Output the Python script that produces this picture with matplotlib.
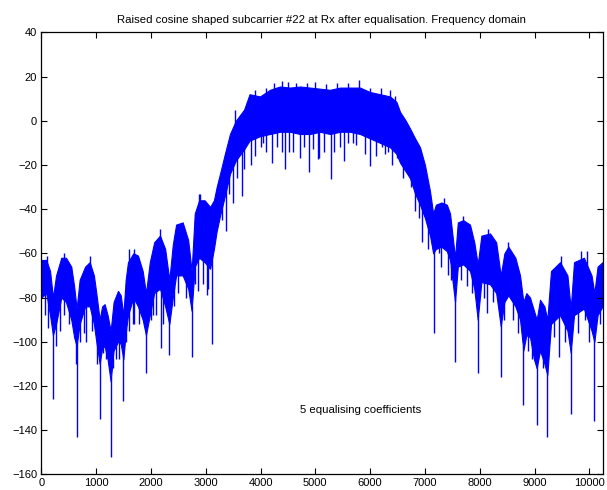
import numpy as np
import matplotlib
matplotlib.use('Agg')
import matplotlib.pyplot as plt

plt.rcParams['font.family'] = ['Liberation Sans', 'DejaVu Sans']

# band of the dense spectrum trace (bin index, dB)
bins = [0, 90, 160, 213, 270, 365, 450, 547, 600, 645, 700, 800, 883, 960, 1004,
        1065, 1110, 1156, 1210, 1266, 1320, 1400, 1450, 1497, 1540, 1582, 1680,
        1764, 1850, 1910, 1980, 2060, 2166, 2260, 2336, 2400, 2460, 2580, 2680,
        2743, 2800, 2880, 2980, 3080, 3150, 3200, 3261, 3350, 3443, 3550, 3700,
        3800, 3991, 4173, 4356, 4538, 4721, 4903, 5086, 5268, 5451, 5633, 5816,
        5998, 6181, 6363, 6480, 6546, 6650, 6728, 6820, 6910, 7000, 7093, 7150,
        7200, 7300, 7400, 7458, 7549, 7600, 7700, 7822, 7900, 7963, 8030, 8187,
        8300, 8383, 8450, 8522, 8650, 8735, 8796, 8850, 8917, 8990, 9039, 9100,
        9180, 9233, 9300, 9465, 9600, 9660, 9720, 9900, 10040, 10091, 10150, 10240]
upper_db = [-63, -63, -68, -80, -70, -62, -62, -66, -75, -85, -72, -66, -64, -70, -78,
            -90, -84, -83, -88, -95, -82, -77, -79, -88, -72, -64, -60,
            -61, -68, -78, -64, -55, -52, -58, -72, -56, -47, -46, -54,
            -68, -42, -36, -36, -39, -36, -30, -24, -15, -6, 0, 5,
            12, 11, 14, 15.5, 15, 15.5, 15, 14.5, 14, 15, 15, 15,
            13, 12, 11, 8.5, 4, 0, -3.5, -8, -12, -20, -32, -42,
            -38, -37, -38, -42, -62, -46, -45, -47, -55, -65, -52, -51,
            -55, -70, -60, -57, -62, -70, -82, -78, -80, -86, -90, -81,
            -84, -90, -68, -64, -70, -85, -64, -62, -70, -78, -66, -64]
lower_db = [-80, -78, -88, -97, -92, -80, -82, -90, -98, -102, -92, -84, -84, -92, -100,
            -110, -103, -102, -108, -118, -104, -100, -101, -108, -96, -88, -80,
            -84, -90, -97, -88, -78, -76, -84, -92, -80, -70, -70, -76,
            -86, -66, -62, -64, -67, -58, -50, -43, -34, -24, -18, -13,
            -9, -7, -6, -5, -5, -6, -6, -5, -6, -5, -5, -6,
            -8, -10, -12, -15, -19, -23, -26, -33, -38, -44, -52, -60,
            -58, -57, -59, -63, -82, -66, -65, -68, -76, -90, -73, -74,
            -78, -93, -82, -79, -84, -90, -104, -97, -98, -108, -112, -104,
            -110, -115, -92, -88, -95, -105, -88, -85, -95, -100, -88, -84]

# downward spikes below the band (bin index, dB)
dip_bins = [130, 213, 274, 347, 627, 645, 819, 1013, 1065, 1130, 1266, 1360, 1497,
            1679, 1910, 2032, 2178, 2336, 2591, 2743, 2865, 3029, 3120,
            3365, 3492, 3669, 3821, 4052, 4216, 4386, 4453, 4520, 4721, 4879,
            5049, 5074, 5280, 5530, 5682, 6004, 6217, 6320, 6497, 6679, 6813,
            6898, 6941, 7171, 7257, 7415, 7549, 7762, 7963, 8138, 8383, 8796,
            9039, 9233, 9452, 9660, 9921, 10091,
            60, 250, 420, 500, 700, 780, 930, 1180, 1300, 1420, 1540, 1600,
            1700, 1780, 2000, 2100, 2220, 2420, 2500, 2640, 2800, 2950, 3050,
            3300, 3420, 3580, 3700, 3900, 4000, 4100, 4300, 4600, 4800, 4950,
            5150, 5350, 5450, 5600, 5750, 5900, 6100, 6270, 6400, 6600, 6750,
            7050, 7300, 7480, 7650, 7850, 8080, 8250, 8450, 8600, 8700, 8880,
            8950, 9150, 9350, 9550, 9800, 9990, 10200]
dip_db = [-94, -126, -102, -95, -110, -143, -100, -110, -135, -105, -152, -108, -127,
          -92, -114, -88, -103, -106, -70, -107, -77, -79, -101,
          -50, -37, -34, -20, -10, -19, -14, -22, -14, -17, -23,
          -17.5, -17, -26.5, -18, -10, -20.5, -12, -14, -17, -19, -41,
          -44, -55, -96, -60, -70, -109, -75, -114, -87, -116, -128.5,
          -137.5, -143, -107, -132.5, -90, -136,
          -88, -92, -88, -92, -100, -96, -95, -108, -112, -108, -100, -95,
          -92, -92, -90, -88, -92, -84, -78, -80, -74, -74, -76,
          -45, -33, -26, -22, -16, -12, -14, -12, -14, -12, -13,
          -14, -14, -12, -10, -11, -15, -16, -15, -20, -26, -30,
          -58, -66, -72, -72, -78, -80, -82, -90, -90, -96, -104,
          -108, -112, -98, -100, -96, -100, -92]

# upward spikes above the band
peak_bins = [100, 420, 883, 1600, 1700, 2160, 2870, 2900, 3540, 3900, 4100, 4250,
             4386, 4500, 4650, 4850, 5000, 5200, 5400, 5600, 5804, 6000, 6200,
             6360, 6450, 7350, 7700, 8150, 8510, 9480, 9850, 9950]
peak_db = [-61, -60, -61, -58, -58, -49, -33, -33, 5, 14, 15, 17,
           18, 17.5, 17, 17, 17.5, 16.5, 17, 17, 18.4, 15, 15,
           14, 11, -35, -43, -49, -55, -61, -59, -59]

blue = '#0000FF'

fig = plt.figure(figsize=(6.07, 4.90), dpi=100)
ax = fig.add_axes([0.068, 0.032, 0.9246, 0.902])

ax.fill_between(bins, lower_db, upper_db, color=blue, linewidth=0.8, edgecolor=blue)
lo_at_dip = np.interp(dip_bins, bins, lower_db)
ax.vlines(dip_bins, dip_db, lo_at_dip + 2, color=blue, linewidth=1.0)
hi_at_peak = np.interp(peak_bins, bins, upper_db)
ax.vlines(peak_bins, hi_at_peak - 2, peak_db, color=blue, linewidth=1.0)

ax.set_xlim(0, 10240)
ax.set_ylim(-160, 40)
ax.set_xticks(np.arange(0, 10001, 1000))
ax.set_yticks(np.arange(-160, 41, 20))
ax.set_yticklabels([str(v).replace('-', '\u2212') for v in range(-160, 41, 20)])
ax.tick_params(direction='in', top=True, right=True, length=4, width=0.8,
               labelsize=8, pad=3)
for s in ax.spines.values():
    s.set_linewidth(0.9)

ax.set_title('Raised cosine shaped subcarrier #22 at Rx after equalisation. Frequency domain',
             fontsize=8.2, pad=7)
ax.text(4720, -131, '5 equalising coefficients', fontsize=8.2, va='center', ha='left')

fig.savefig('out.png', dpi=100)
